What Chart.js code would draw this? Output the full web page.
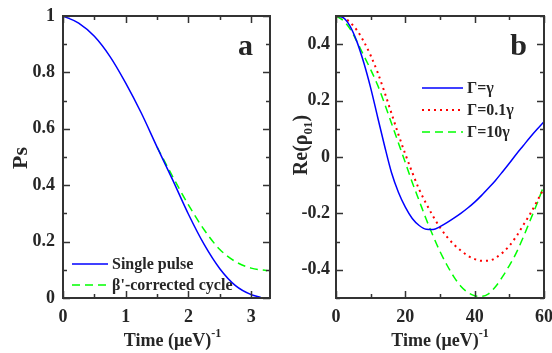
<!DOCTYPE html>
<html><head><meta charset="utf-8">
<script src="https://cdn.jsdelivr.net/npm/chart.js@4/dist/chart.umd.min.js"></script>
<style>
html,body{margin:0;padding:0;background:#fff;}
#wrap{position:relative;width:552px;height:353px;overflow:hidden;}
.p{position:absolute;top:0;width:276px;height:353px;}
</style></head><body>
<div id="wrap">
<div class="p" style="left:0"><canvas id="ca" width="276" height="353"></canvas></div>
<div class="p" style="left:276px"><canvas id="cb" width="276" height="353"></canvas></div>
</div>
<script>
// ---- Panel a data ----
const timeA = [0, 0.25, 0.5, 0.75, 1.0, 1.25, 1.5, 1.75, 2.0, 2.25, 2.5, 2.75, 3.0, 3.15];
const singlePulse = [1, 0.975, 0.928, 0.856, 0.762, 0.655, 0.535, 0.418, 0.297, 0.19, 0.104, 0.044, 0.012, 0.003];
const timeA2 = [1.5, 1.75, 2.0, 2.25, 2.5, 2.75, 3.0, 3.25];
const correctedCycle = [0.535, 0.43, 0.33, 0.242, 0.172, 0.129, 0.106, 0.097];
const xTicksA = [0, 0.5, 1, 1.5, 2, 2.5, 3];
const xLabelsA = ['0', '', '1', '', '2', '', '3'];
const yTicksA = [0, 0.1, 0.2, 0.3, 0.4, 0.5, 0.6, 0.7, 0.8, 0.9, 1];
const yLabelsA = ['0', '', '0.2', '', '0.4', '', '0.6', '', '0.8', '', '1'];

// ---- Panel b data ----
const timeB = [0, 2, 4, 6, 8, 10, 12, 14, 16, 18, 20, 22, 24, 26, 28, 30, 32, 34, 36, 38, 40, 42, 44, 46, 48, 50, 52, 54, 56, 58, 60];
const gammaEq = [0.5, 0.495, 0.465, 0.41, 0.335, 0.245, 0.142, 0.04, -0.055, -0.125, -0.178, -0.218, -0.243, -0.256, -0.257, -0.247, -0.233, -0.217, -0.2, -0.181, -0.16, -0.136, -0.11, -0.083, -0.053, -0.022, 0.01, 0.04, 0.07, 0.098, 0.125];
const gamma01 = [0.5, 0.495, 0.478, 0.45, 0.41, 0.36, 0.3, 0.23, 0.155, 0.08, 0.01, -0.055, -0.115, -0.165, -0.21, -0.25, -0.283, -0.31, -0.332, -0.35, -0.362, -0.368, -0.368, -0.358, -0.34, -0.315, -0.282, -0.242, -0.202, -0.157, -0.11];
const gamma10 = [0.5, 0.485, 0.455, 0.41, 0.36, 0.31, 0.255, 0.19, 0.12, 0.05, -0.02, -0.09, -0.155, -0.22, -0.28, -0.335, -0.383, -0.425, -0.458, -0.48, -0.492, -0.494, -0.485, -0.46, -0.425, -0.385, -0.34, -0.285, -0.225, -0.165, -0.1];
const xTicksB = [0, 10, 20, 30, 40, 50, 60];
const xLabelsB = ['0', '', '20', '', '40', '', '60'];
const yTicksB = [-0.5, -0.4, -0.3, -0.2, -0.1, 0, 0.1, 0.2, 0.3, 0.4, 0.5];
const yLabelsB = ['', '-0.4', '', '-0.2', '', '0', '', '0.2', '', '0.4', ''];

const TXT = '#262626';
const FAM = '"Liberation Serif", "Times New Roman", serif';
const pts = (xs, ys) => xs.map((x, i) => ({x: x, y: ys[i]}));

function drawRich(ctx, parts, cx, cy, rotate) {
  ctx.save();
  ctx.translate(cx, cy);
  if (rotate) ctx.rotate(-Math.PI / 2);
  let total = 0;
  parts.forEach(p => { ctx.font = 'bold ' + p.size + 'px ' + FAM; p.w = ctx.measureText(p.t).width; total += p.w; });
  let x = -total / 2;
  ctx.textAlign = 'left'; ctx.textBaseline = 'alphabetic'; ctx.fillStyle = TXT;
  parts.forEach(p => { ctx.font = 'bold ' + p.size + 'px ' + FAM; ctx.fillText(p.t, x, p.dy || 0); x += p.w; });
  ctx.restore();
}

const decor = {
  id: 'decor',
  afterDraw(chart, args, o) {
    const {ctx, chartArea: a, scales} = chart;
    ctx.save();
    ctx.strokeStyle = '#333'; ctx.lineWidth = 1.5; ctx.setLineDash([]);
    const xs = scales.x, ys = scales.y;
    ctx.beginPath();
    xs.ticks.forEach((t, i) => {
      const p = Math.round(xs.getPixelForValue(t.value)) + 0.5;
      const L = o.xLabels[i] ? 7 : 4;
      ctx.moveTo(p, a.bottom); ctx.lineTo(p, a.bottom - L);
      ctx.moveTo(p, a.top); ctx.lineTo(p, a.top + L);
    });
    ys.ticks.forEach((t, i) => {
      const p = Math.round(ys.getPixelForValue(t.value)) + 0.5;
      const L = o.yLabels[i] ? 7 : 4;
      ctx.moveTo(a.left, p); ctx.lineTo(a.left + L, p);
      ctx.moveTo(a.right, p); ctx.lineTo(a.right - L, p);
    });
    ctx.stroke();
    ctx.lineWidth = 2;
    ctx.strokeRect(a.left, a.top, a.right - a.left, a.bottom - a.top);

    const lg = o.legend;
    chart.data.datasets.forEach((ds, i) => {
      const y = lg.y0 + i * lg.dy;
      ctx.save();
      ctx.strokeStyle = ds.borderColor; ctx.lineWidth = ds.borderWidth;
      ctx.setLineDash(ds.borderDash || []);
      ctx.beginPath(); ctx.moveTo(lg.x1, y); ctx.lineTo(lg.x2, y); ctx.stroke();
      ctx.restore();
      ctx.font = 'bold ' + lg.size + 'px ' + FAM; ctx.fillStyle = TXT;
      ctx.textAlign = 'left'; ctx.textBaseline = 'middle';
      ctx.fillText(ds.label, lg.tx, y + 1);
    });

    ctx.font = 'bold 30px ' + FAM; ctx.fillStyle = TXT;
    ctx.textAlign = 'right'; ctx.textBaseline = 'alphabetic';
    ctx.fillText(o.letter, a.right - o.letterDx, a.top + 39);
    ctx.restore();

    drawRich(ctx, o.xTitle, (a.left + a.right) / 2 + o.xTitleDx, o.xTitleY, false);
    drawRich(ctx, o.yTitle, o.yTitleX, o.yTitleY, true);
  }
};

function makeChart(id, datasets, sc, opt) {
  const tickFont = {family: FAM, size: 18, weight: 'bold'};
  return new Chart(document.getElementById(id), {
    type: 'line',
    data: {datasets: datasets},
    options: {
      responsive: false, animation: false, devicePixelRatio: 1,
      layout: {padding: {top: 16, right: opt.padRight, left: 0, bottom: 0}},
      plugins: {legend: {display: false}, tooltip: {enabled: false}, decor: opt.decor},
      elements: {point: {radius: 0}, line: {cubicInterpolationMode: 'monotone'}},
      scales: {
        x: {
          type: 'linear', min: sc.xmin, max: sc.xmax,
          grid: {display: false, drawTicks: false}, border: {display: false},
          afterBuildTicks: s => { s.ticks = sc.xTicks.map(v => ({value: v})); },
          ticks: {autoSkip: false, maxRotation: 0, padding: 9, color: TXT, font: tickFont,
                  callback: (v, i) => sc.xLabels[i]},
          afterFit: s => { s.height = 55; s.paddingLeft = 0; s.paddingRight = 0; }
        },
        y: {
          type: 'linear', min: sc.ymin, max: sc.ymax,
          grid: {display: false, drawTicks: false}, border: {display: false},
          afterBuildTicks: s => { s.ticks = sc.yTicks.map(v => ({value: v})); },
          ticks: {autoSkip: false, padding: opt.yPad, color: TXT, font: tickFont,
                  callback: (v, i) => sc.yLabels[i]},
          afterFit: s => { s.width = opt.yWidth; s.paddingTop = 0; s.paddingBottom = 0; }
        }
      }
    },
    plugins: [decor]
  });
}

makeChart('ca', [
  {label: 'Single pulse', data: pts(timeA, singlePulse), borderColor: '#0000ff', borderWidth: 1.5, fill: false},
  {label: "\u03b2'-corrected cycle", data: pts(timeA2, correctedCycle), borderColor: '#00ff00', borderWidth: 1.5, borderDash: [8, 5], fill: false}
], {xmin: 0, xmax: 3.3, ymin: 0, ymax: 1, xTicks: xTicksA, xLabels: xLabelsA, yTicks: yTicksA, yLabels: yLabelsA},
{padRight: 6, yWidth: 63, yPad: 8, decor: {
  xLabels: xLabelsA, yLabels: yLabelsA,
  legend: {x1: 72, x2: 108, tx: 112, y0: 264, dy: 21, size: 16},
  letter: 'a', letterDx: 17,
  xTitle: [{t: 'Time (\u03bceV)', size: 18}, {t: '-1', size: 12, dy: -9}], xTitleDx: 6, xTitleY: 346,
  yTitle: [{t: 'Ps', size: 22}], yTitleX: 27, yTitleY: 158
}});

makeChart('cb', [
  {label: '\u0393=\u03b3', data: pts(timeB, gammaEq), borderColor: '#0000ff', borderWidth: 1.5, fill: false},
  {label: '\u0393=0.1\u03b3', data: pts(timeB, gamma01), borderColor: '#ff0000', borderWidth: 2, borderDash: [2, 4], fill: false},
  {label: '\u0393=10\u03b3', data: pts(timeB, gamma10), borderColor: '#00ff00', borderWidth: 1.5, borderDash: [8, 5], fill: false}
], {xmin: 0, xmax: 60, ymin: -0.5, ymax: 0.5, xTicks: xTicksB, xLabels: xLabelsB, yTicks: yTicksB, yLabels: yLabelsB},
{padRight: 8, yWidth: 60, yPad: 6, decor: {
  xLabels: xLabelsB, yLabels: yLabelsB,
  legend: {x1: 146, x2: 187, tx: 191, y0: 88, dy: 22, size: 16},
  letter: 'b', letterDx: 17,
  xTitle: [{t: 'Time (\u03bceV)', size: 18}, {t: '-1', size: 12, dy: -9}], xTitleDx: 0, xTitleY: 346,
  yTitle: [{t: 'Re(\u03c1', size: 20}, {t: '01', size: 13, dy: 5}, {t: ')', size: 20}], yTitleX: 30.5, yTitleY: 145
}});
</script>
</body></html>
